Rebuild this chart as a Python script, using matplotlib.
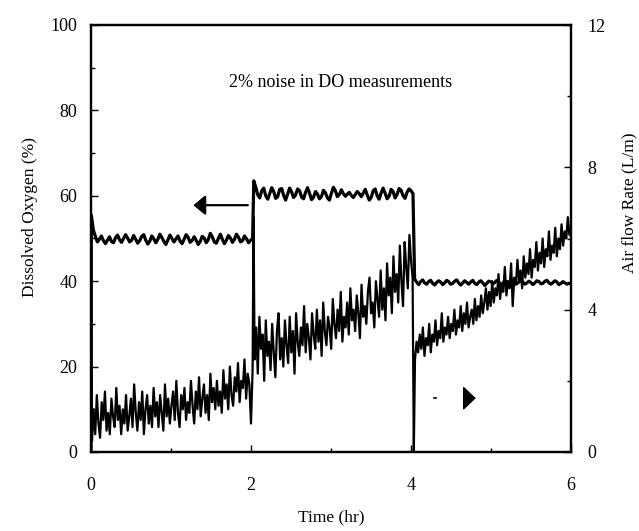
import numpy as np
import matplotlib
matplotlib.use("Agg")
import matplotlib.pyplot as plt

plt.rcParams['font.family'] = ['Liberation Serif', 'DejaVu Serif']

# ---------------- data ----------------
# Dissolved oxygen (%), three set-point segments
do_start = [0.0]
do_seg1 = [55.5, 52.0, 50.5, 49.2, 49.8, 50.6, 49.5, 48.8, 49.6, 50.4, 49.3, 49.0, 50.2, 50.8,
           49.7, 49.1, 50.0, 50.9, 50.1, 49.2, 49.6, 50.7, 49.8, 48.9, 49.5, 50.5, 50.9, 49.6,
           48.7, 49.4, 50.6, 49.9, 49.0, 49.8, 51.0, 50.2, 49.3, 48.6, 49.7, 50.8, 50.0, 49.2,
           49.9, 50.6, 49.4, 48.8, 49.8, 50.9, 50.3, 49.1, 49.5, 50.4, 49.6, 48.6, 49.3, 50.5,
           50.1, 49.0, 49.7, 51.2, 50.4, 49.2, 48.9, 50.0, 51.0, 49.8, 48.8, 49.6, 50.7, 50.1,
           49.1, 49.8, 51.0, 50.3, 49.2, 49.5, 50.6, 49.9, 49.0, 49.6, 50.0]
do_seg2 = [63.5, 62.0, 60.2, 59.5, 61.2, 61.8, 60.0, 59.2, 60.5, 61.9, 61.0, 59.4, 59.8, 61.5,
           61.7, 60.1, 59.0, 60.4, 61.8, 60.9, 59.6, 60.2, 61.6, 61.2, 59.7, 59.3, 60.8, 61.9,
           60.6, 59.1, 59.6, 61.0, 60.4, 59.3, 59.8, 61.3, 60.7, 59.5, 59.0, 60.6, 62.0, 61.2,
           59.8, 60.3, 61.4, 60.5, 59.9, 60.4, 60.8, 60.1, 59.6, 60.3, 61.0, 60.5, 59.8, 60.6,
           61.5, 60.2, 59.0, 59.6, 61.2, 61.6, 60.0, 59.2, 60.7, 61.8, 60.6, 59.3, 59.9, 61.5,
           61.0, 59.5, 60.3, 61.7, 61.3, 60.0, 59.4, 60.8, 61.6, 61.2, 60.5]
do_seg3 = [40.5, 39.8, 39.2, 39.9, 40.3, 39.6, 39.3, 39.9, 40.2, 39.5, 39.1, 39.7, 40.1, 39.8,
           39.2, 39.6, 40.2, 39.9, 39.3, 39.5, 40.0, 40.3, 39.6, 39.1, 39.6, 40.1, 39.7, 39.3,
           39.8, 40.2, 39.5, 39.2, 39.8, 40.1, 39.6, 39.0, 39.5, 40.0, 39.9, 39.4, 39.7, 40.2,
           39.8, 39.2, 39.5, 40.1, 39.9, 39.3, 39.6, 40.2, 39.7, 39.4, 39.8, 40.3, 39.8, 39.3,
           39.6, 40.0, 39.7, 39.2, 39.6, 40.1, 39.9, 39.4, 39.5, 40.0, 40.2, 39.6, 39.3, 39.7,
           40.1, 39.8, 39.2, 39.5, 39.9, 39.6, 39.3, 39.5, 39.4]

# Air flow rate (L/m), controller kicks at the set-point changes
air_kicks = [6.6, 6.6, 0.0]
air_seg1 = [0.3, 1.2, 0.5, 1.6, 0.8, 0.4, 1.4, 0.9, 1.7, 0.6, 1.1, 0.5, 1.5, 1.0, 0.7, 1.8, 0.9, 1.3, 0.5, 1.2,
            0.8, 1.6, 0.6, 1.0, 1.5, 0.7, 1.9, 1.1, 0.6, 1.4, 0.9, 1.7, 0.5, 1.2, 1.6, 0.8, 1.3, 0.7, 1.8, 1.0,
            1.4, 0.7, 1.6, 1.1, 0.6, 1.9, 1.0, 1.5, 0.8, 1.3, 1.7, 0.9, 2.0, 1.1, 0.7, 1.6, 1.2, 1.8, 0.9, 1.4,
            1.1, 2.0, 1.3, 0.8, 1.7, 1.2, 2.1, 1.0, 1.5, 1.9, 1.1, 1.6, 0.9, 2.2, 1.4, 1.8, 1.2, 2.0, 1.3, 1.7,
            1.1, 2.3, 1.5, 1.9, 1.2, 2.4, 1.6, 1.3, 2.1, 1.7, 2.5, 1.4, 2.0, 1.8, 2.6, 1.5, 2.2, 1.9, 0.8, 2.3]
air_seg2 = [2.6, 3.5, 2.2, 3.8, 2.9, 3.3, 2.0, 3.7, 2.7, 3.1, 2.3, 3.6, 2.8, 2.1, 3.4, 3.9, 2.6, 3.2, 2.4, 3.7,
            3.0, 2.5, 3.8, 2.8, 3.4, 2.2, 3.9, 3.1, 2.7, 3.5, 3.0, 4.1, 2.8, 3.6, 3.2, 2.6, 3.9, 3.3, 2.9, 4.0,
            3.1, 3.7, 2.7, 4.2, 3.4, 3.0, 3.8, 3.5, 2.9, 4.3, 3.6, 3.2, 4.0, 3.4, 4.5, 3.1, 3.8, 3.5, 4.2, 3.3,
            4.6, 3.7, 4.0, 3.4, 4.4, 3.9, 3.2, 4.7, 3.8, 4.1, 3.6, 4.5, 4.9, 3.9, 4.2, 3.5, 4.8, 4.3, 3.8, 5.1,
            4.0, 4.6, 3.7, 5.3, 4.4, 4.9, 3.9, 5.5, 4.5, 5.0, 4.2, 5.8, 4.8, 4.1, 5.9, 5.2, 4.6, 6.1, 5.4, 4.9]
air_seg3 = [2.6, 3.1, 2.8, 3.3, 2.9, 3.5, 2.7, 3.2, 3.0, 3.6, 2.8, 3.3, 3.1, 3.7, 3.0, 3.4, 3.2, 3.9, 3.1, 3.5,
            3.3, 3.8, 3.2, 3.6, 3.4, 4.0, 3.3, 3.7, 3.5, 4.1, 3.4, 3.9, 3.6, 4.2, 3.5, 3.8, 4.0, 3.6, 4.3, 3.7,
            4.1, 3.8, 4.4, 3.9, 4.2, 4.6, 4.0, 4.5, 4.1, 4.8, 4.2, 4.6, 4.4, 5.0, 4.3, 4.7, 4.5, 5.2, 4.4, 4.8,
            4.6, 5.3, 4.1, 4.9, 4.7, 5.4, 4.8, 5.1, 4.6, 5.5, 4.9, 5.3, 5.0, 5.7, 4.9, 5.4, 5.2, 5.9, 5.1, 5.6,
            5.3, 6.0, 5.2, 5.7, 5.5, 6.2, 5.4, 5.8, 5.6, 6.3, 5.5, 6.0, 5.7, 6.4, 5.8, 6.2, 6.0, 6.6, 6.1, 6.3]

x_ticks = [0, 2, 4, 6]
do_ticks = [0, 20, 40, 60, 80, 100]
air_ticks = [0, 4, 8, 12]

# sample times of each segment (hr)
do_t = np.concatenate([[0.0],
                       np.linspace(0.004, 2.02, len(do_seg1)),
                       np.linspace(2.035, 4.025, len(do_seg2)),
                       np.linspace(4.045, 6.0, len(do_seg3))])
do_v = np.concatenate([do_start, do_seg1, do_seg2, do_seg3])

air_t = np.concatenate([[0.0],
                        np.linspace(0.012, 2.02, len(air_seg1)),
                        [2.032],
                        np.linspace(2.045, 4.02, len(air_seg2)),
                        [4.035],
                        np.linspace(4.05, 6.0, len(air_seg3))])
air_v = np.concatenate([[air_kicks[0]], air_seg1, [air_kicks[1]], air_seg2,
                        [air_kicks[2]], air_seg3])

# ---------------- figure ----------------
fig = plt.figure(figsize=(6.39, 5.31), dpi=100)
ax = fig.add_axes([91/639, 1-452/531, 480/639, 427/531])
ax2 = ax.twinx()

ax.plot(do_t, do_v, color='black', lw=2.3, zorder=3)
ax2.plot(air_t, air_v, color='black', lw=1.6, zorder=3)

ax.set_xlim(0, 6)
ax.set_ylim(0, 100)
ax2.set_ylim(0, 12)

ax.set_xticks(x_ticks)
ax.set_xticks([1, 3, 5], minor=True)
ax.set_yticks(do_ticks)
ax.set_yticks([10, 30, 50, 70, 90], minor=True)
ax2.set_yticks(air_ticks)
ax2.set_yticks([2, 6, 10], minor=True)

fs_tick = 13
ax.tick_params(axis='both', which='both', direction='in', width=1.0)
ax.tick_params(axis='both', which='major', length=5, labelsize=fs_tick)
ax.tick_params(axis='both', which='minor', length=3)
ax.tick_params(axis='x', which='major', pad=18)
ax.tick_params(axis='y', which='major', pad=10)
ax2.tick_params(axis='y', which='both', direction='in', width=1.0)
ax2.tick_params(axis='y', which='major', length=5, labelsize=fs_tick, pad=12)
ax2.tick_params(axis='y', which='minor', length=3)

for a in (ax, ax2):
    for s in a.spines.values():
        s.set_linewidth(1.6)

ax.set_xlabel('Time (hr)', fontsize=12.5)
ax.xaxis.set_label_coords(0.5, -0.135)
ax.set_ylabel('Dissolved Oxygen (%)', fontsize=12.5)
ax.yaxis.set_label_coords(-0.11, 0.55)
ax2.set_ylabel('Air flow Rate (L/m)', fontsize=12.5)
ax2.yaxis.set_label_coords(1.104, 0.583)

ax.text(3.12, 86.5, '2% noise in DO measurements', fontsize=13, ha='center', va='center')

ax.annotate('', xy=(1.28, 57.8), xytext=(1.96, 57.8),
            arrowprops=dict(arrowstyle='-|>,head_length=0.36,head_width=0.3',
                            color='black', lw=1.6, mutation_scale=20, shrinkA=0, shrinkB=0))
ax.annotate('', xy=(4.81, 12.6), xytext=(4.675, 12.6),
            arrowprops=dict(arrowstyle='-|>,head_length=0.4,head_width=0.38',
                            color='black', lw=1.0, mutation_scale=20, shrinkA=0, shrinkB=0))
ax.plot([4.29, 4.315], [12.6, 12.6], color='black', lw=1.2)

fig.savefig('out.png', dpi=100)
